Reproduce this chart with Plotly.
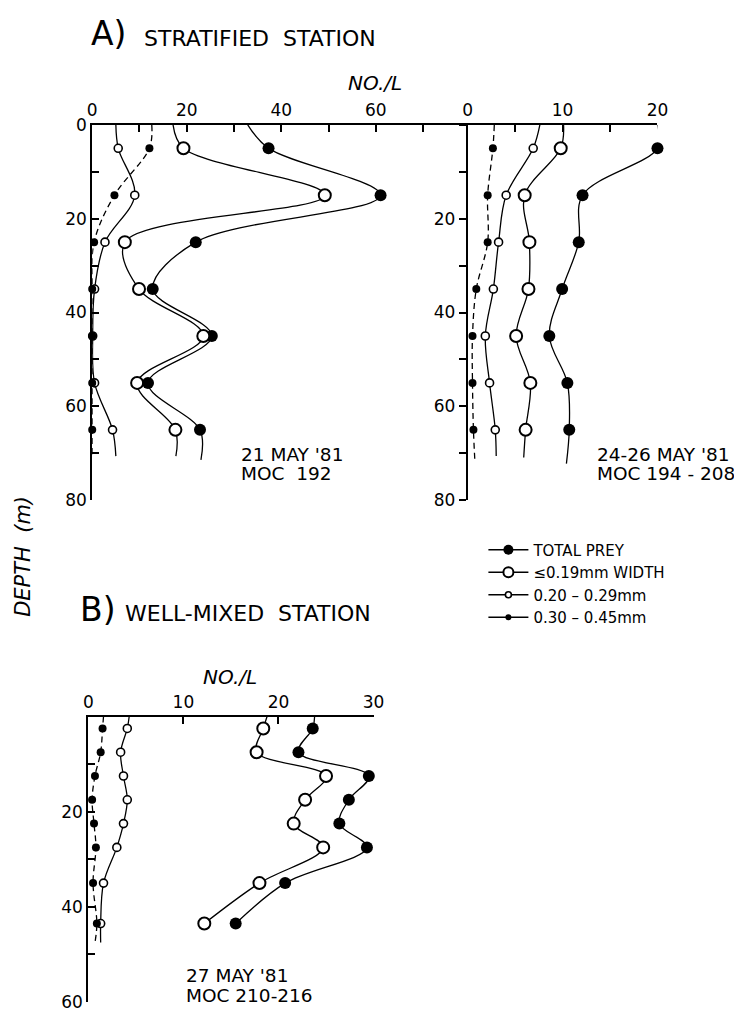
import plotly.graph_objects as go

# page is 742x1022; the browser body keeps an 8px margin, so the figure is 726x1006
W, H = 726, 1006
OFF = 8

# ---------------- data ----------------
depth_a = [5, 15, 25, 35, 45, 55, 65]
depth_b = [2.5, 7.5, 12.5, 17.5, 22.5, 27.5, 35, 43.5]

series_names = ["TOTAL PREY", "≤0.19mm WIDTH", "0.20 – 0.29mm", "0.30 – 0.45mm"]

# A) stratified station, 21 May '81 (MOC 192)
a1_total = [37.3, 61.0, 21.9, 12.8, 25.3, 11.8, 22.8]
a1_small_width = [19.3, 49.2, 6.9, 9.9, 23.5, 9.5, 17.6]
a1_mid = [5.5, 9.0, 2.7, 0.5, 0.1, 0.5, 4.3]
a1_large = [12.1, 4.7, 0.4, 0.0, 0.0, 0.0, 0.0]
a1_curve_top = [32.9, 17.1, 5.0, 12.6]        # curve value at 0 m
a1_curve_bottom = [23.0, 17.7, 5.0, 0.0]      # curve value at its lower end
a1_curve_bottom_depth = [71.4, 70.6, 70.6, 70.2]

# A) stratified station, 24-26 May '81 (MOC 194-208)
a2_total = [20.0, 12.1, 11.7, 9.95, 8.6, 10.5, 10.7]
a2_small_width = [9.8, 6.0, 6.5, 6.4, 5.1, 6.6, 6.1]
a2_mid = [6.9, 4.05, 3.25, 2.7, 1.85, 2.3, 2.9]
a2_large = [2.65, 2.1, 2.1, 0.9, 0.5, 0.5, 0.6]
a2_curve_top = [20.0, 10.1, 7.6, 2.8]
a2_curve_bottom = [10.4, 5.9, 3.0, 0.75]
a2_curve_bottom_depth = [72.2, 70.9, 70.6, 71.6]

# B) well-mixed station, 27 May '81 (MOC 210-216)
b_total = [23.6, 22.1, 29.5, 27.4, 26.4, 29.3, 20.7, 15.5]
b_small_width = [18.4, 17.7, 25.0, 22.8, 21.6, 24.7, 18.0, 12.2]
b_mid = [4.1, 3.4, 3.7, 4.1, 3.7, 3.0, 1.6, 1.3]
b_large = [1.5, 1.3, 0.7, 0.4, 0.6, 0.8, 0.5, 0.9]
b_curve_top = [23.8, 18.8, 4.3, 1.6]
b_curve_bottom = [None, None, 1.3, 0.7]
b_curve_bottom_depth = [None, None, 47.5, 47.5]

# axis ticks
a1_xticks = [0, 10, 20, 30, 40, 50, 60, 70]
a1_xlabels = ["0", "", "20", "", "40", "", "60", ""]
a2_xticks = [0, 5, 10, 15, 20]
a2_xlabels = ["0", "", "10", "", "20"]
b_xticks = [0, 10, 20, 30]
b_xlabels = ["0", "10", "20", "30"]
a_depth_ticks = [0, 10, 20, 30, 40, 50, 60, 70, 80]
a1_depth_labels = ["0", "", "20", "", "40", "", "60", "", "80"]
a2_depth_labels = ["", "", "20", "", "40", "", "60", "", "80"]
b_depth_ticks = [0, 10, 20, 30, 40, 50, 60]
b_depth_labels = ["", "", "20", "", "40", "", "60"]

# ---------------- styles ----------------
FONT = "DejaVu Sans"
styles = [
    dict(size=12, fill="black", lw=0, dash="solid"),
    dict(size=12, fill="white", lw=2, dash="solid"),
    dict(size=8, fill="white", lw=1.6, dash="solid"),
    dict(size=8, fill="black", lw=0, dash="dash"),
]

panels = [
    ("x", "y", depth_a, [a1_total, a1_small_width, a1_mid, a1_large],
     a1_curve_top, a1_curve_bottom, a1_curve_bottom_depth),
    ("x2", "y2", depth_a, [a2_total, a2_small_width, a2_mid, a2_large],
     a2_curve_top, a2_curve_bottom, a2_curve_bottom_depth),
    ("x3", "y3", depth_b, [b_total, b_small_width, b_mid, b_large],
     b_curve_top, b_curve_bottom, b_curve_bottom_depth),
]

fig = go.Figure()

for xa, ya, depths, vals, tops, bots, bdeps in panels:
    for i, st in enumerate(styles):
        xs = [tops[i]] + list(vals[i])
        ys = [0] + list(depths)
        if bots[i] is not None:
            xs.append(bots[i])
            ys.append(bdeps[i])
        fig.add_trace(go.Scatter(
            x=xs, y=ys, mode="lines", xaxis=xa, yaxis=ya,
            line=dict(color="black", width=1.3, shape="spline", smoothing=1.0,
                      dash="6px,4px" if st["dash"] == "dash" else "solid"),
            showlegend=False, hoverinfo="skip", cliponaxis=False))
    for i, st in enumerate(styles):
        fig.add_trace(go.Scatter(
            x=vals[i], y=depths, mode="markers", xaxis=xa, yaxis=ya,
            marker=dict(symbol="circle", size=st["size"], color=st["fill"],
                        line=dict(color="black", width=st["lw"])),
            showlegend=False, cliponaxis=False))

# legend entries
for i, st in enumerate(styles):
    fig.add_trace(go.Scatter(
        x=[None], y=[None], mode="lines+markers", name=series_names[i],
        xaxis="x", yaxis="y",
        line=dict(color="black", width=1.5),
        marker=dict(symbol="circle", size=st["size"] - 2, color=st["fill"],
                    line=dict(color="black", width=st["lw"]))))


def px_x(s):
    return (s - OFF) / W


def px_y(s):
    return 1 - (s - OFF) / H


tickfont = dict(family=FONT, size=17, color="black")
common = dict(showline=True, linecolor="black", linewidth=2, showgrid=False,
              zeroline=False, tickcolor="black", ticklen=7, tickwidth=1.5,
              tickfont=tickfont, tickmode="array")

ya_dom = [px_y(500), px_y(117)]
yb_dom = [px_y(1012), px_y(720.7)]

fig.update_layout(
    width=W, height=H, margin=dict(l=0, r=0, t=0, b=0),
    paper_bgcolor="white", plot_bgcolor="rgba(0,0,0,0)",
    font=dict(family=FONT, color="black"),
    xaxis=dict(domain=[px_x(89), px_x(475.7)], range=[0, 80], side="top", anchor="y",
               tickvals=a1_xticks, ticktext=a1_xlabels, ticks="inside", **common),
    yaxis=dict(domain=ya_dom, range=[80, 0], anchor="x",
               tickvals=a_depth_ticks, ticktext=a1_depth_labels, ticks="inside", **common),
    xaxis2=dict(domain=[px_x(473), px_x(667)], range=[0, 20], side="top", anchor="y2",
                tickvals=a2_xticks, ticktext=a2_xlabels, ticks="inside", **common),
    yaxis2=dict(domain=ya_dom, range=[80, 0], anchor="x2",
                tickvals=a_depth_ticks, ticktext=a2_depth_labels, ticks="outside", **common),
    xaxis3=dict(domain=[px_x(85), px_x(376.7)], range=[0, 30], side="top", anchor="y3",
                tickvals=b_xticks, ticktext=b_xlabels, ticks="inside", **common),
    yaxis3=dict(domain=yb_dom, range=[60, 0], anchor="x3",
                tickvals=b_depth_ticks, ticktext=b_depth_labels, ticks="inside", **common),
    showlegend=True,
    legend=dict(x=px_x(489), y=px_y(534), xanchor="left", yanchor="top",
                font=dict(family=FONT, size=15, color="black"),
                bgcolor="rgba(0,0,0,0)", itemwidth=40, tracegroupgap=0),
)


def ann(text, x, y, size, xanchor="left", angle=0):
    fig.add_annotation(text=text, x=px_x(x), y=px_y(y), xref="paper", yref="paper",
                       xanchor=xanchor, yanchor="middle", showarrow=False,
                       textangle=angle, font=dict(family=FONT, size=size, color="black"))


ann("A)", 86, 24, 33)
ann("STRATIFIED  STATION", 140, 29, 22)
ann("<i>NO./L</i>", 378, 74, 20, "center")
ann("21 MAY '81", 239, 453, 18.5)
ann("MOC  192", 239, 473, 18.5)
ann("24-26 MAY '81", 603, 453, 18.5)
ann("MOC 194 - 208", 603, 473, 18.5)
ann("<i>DEPTH  (m)</i>", 18, 557, 21, "center", -90)
ann("B)", 74, 612, 33)
ann("WELL-MIXED  STATION", 120, 616, 22)
ann("<i>NO./L</i>", 230, 680, 20, "center")
ann("27 MAY '81", 183, 985, 18.5)
ann("MOC 210-216", 183, 1005, 18.5)

fig.write_html("out.html")
